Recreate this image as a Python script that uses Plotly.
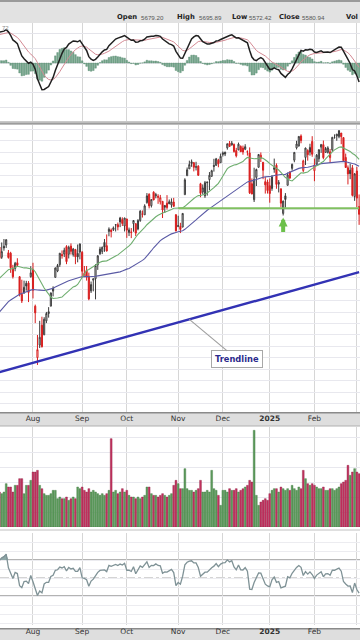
import numpy as np
import pandas as pd
import plotly.graph_objects as go

# ---------------- data ----------------
# off-screen closes (Apr 1 - Jul 10 2024), used only to warm up the indicators
warm_close = [5243, 5205, 5211, 5147, 5204, 5202, 5209, 5161, 5199, 5123, 5061, 5051, 5022, 5011, 4967, 5010, 5070, 5072, 5048, 5100, 5116, 5036,
              5018, 5064, 5128, 5181, 5187, 5188, 5214, 5223, 5221, 5247, 5308, 5297, 5303, 5308, 5321, 5307, 5268, 5305, 5306, 5267, 5236, 5278,
              5283, 5291, 5354, 5353, 5347, 5361, 5375, 5421, 5434, 5431, 5473, 5487, 5473, 5464, 5448, 5469, 5478, 5483, 5460,
              5475, 5509, 5537, 5567, 5572, 5577, 5633]

# visible daily OHLC (Jul 11 2024 - Mar 4 2025)
opens = [5635, 5590, 5638, 5644, 5610, 5608, 5543, 5541, 5566, 5505, 5428, 5433, 5476, 5478, 5505,
         5537, 5376, 5151, 5206, 5293, 5251, 5312, 5352, 5376, 5442, 5502, 5530, 5558, 5602, 5604, 5637, 5603, 5639, 5602, 5624, 5607, 5613,
         5612, 5506, 5533, 5507, 5443, 5490, 5496, 5557, 5605, 5615, 5655, 5641, 5703, 5709, 5711, 5733, 5733, 5762, 5755, 5727,
         5758, 5698, 5698, 5737, 5737, 5714, 5751, 5778, 5776, 5829, 5866, 5816, 5875, 5859, 5857, 5833, 5835, 5817, 5827, 5833, 5819, 5832, 5776,
         5724, 5725, 5722, 5864, 5947, 5977, 6008, 6004, 5986, 5989, 5912, 5876, 5859, 5920, 5930, 5944, 5992, 5992, 6015, 6004,
         6040, 6042, 6069, 6089, 6081, 6084, 6057, 6060, 6075, 6068, 6063, 6052, 6047, 5912, 5842, 5940, 5984, 6024, 6006, 5921, 5920,
         5903, 5891, 5982, 5993, 5910, 5890, 5782, 5859, 5905, 5964, 5979, 6015, 6069, 6077, 6121, 5970, 6027, 6057, 6050, 6097,
         5969, 5998, 6021, 6072, 6083, 6049, 6049, 6026, 6060, 6115, 6121, 6118, 6134, 6114, 6027, 5982, 5971, 5982, 5856,
         5968, 5812]
highs = [5642, 5655, 5670, 5669, 5622, 5614, 5557, 5570, 5586, 5508, 5492, 5488, 5487, 5486, 5551,
         5566, 5383, 5250, 5312, 5330, 5328, 5351, 5372, 5436, 5463, 5546, 5561, 5608, 5620, 5632, 5643, 5641, 5651, 5631, 5627, 5646, 5651,
         5617, 5552, 5552, 5523, 5484, 5497, 5560, 5600, 5636, 5637, 5670, 5690, 5721, 5716, 5725, 5735, 5742, 5767, 5765, 5763,
         5758, 5720, 5718, 5753, 5739, 5757, 5796, 5795, 5822, 5871, 5870, 5843, 5879, 5872, 5866, 5863, 5835, 5817, 5862, 5843, 5848, 5850, 5779,
         5772, 5741, 5783, 5936, 5983, 6013, 6018, 6007, 6008, 5993, 5916, 5909, 5924, 5921, 5963, 5973, 6021, 6025, 6021, 6044,
         6053, 6052, 6087, 6099, 6099, 6088, 6069, 6092, 6080, 6079, 6085, 6058, 6071, 5935, 5982, 5978, 6041, 6049, 6006, 5941, 5930,
         5935, 5950, 6022, 6001, 5928, 5890, 5838, 5871, 5961, 5964, 6000, 6051, 6100, 6118, 6128, 6017, 6070, 6063, 6087, 6120,
         6022, 6042, 6062, 6084, 6101, 6073, 6076, 6064, 6117, 6128, 6130, 6147, 6134, 6114, 6044, 5992, 6000, 5994, 5959,
         5986, 5865]
lows = [5571, 5583, 5619, 5631, 5584, 5522, 5497, 5529, 5551, 5419, 5390, 5432, 5444, 5394, 5501,
        5410, 5302, 5119, 5193, 5195, 5249, 5302, 5326, 5376, 5419, 5502, 5525, 5548, 5584, 5591, 5560, 5585, 5602, 5593, 5560, 5568, 5581,
        5501, 5503, 5488, 5402, 5434, 5441, 5406, 5535, 5601, 5604, 5614, 5615, 5682, 5677, 5705, 5703, 5708, 5722, 5727, 5703,
        5675, 5683, 5674, 5702, 5683, 5708, 5745, 5764, 5775, 5825, 5804, 5808, 5840, 5848, 5824, 5821, 5762, 5784, 5799, 5823, 5807, 5812, 5704,
        5723, 5696, 5722, 5864, 5947, 5977, 5986, 5966, 5970, 5946, 5853, 5865, 5850, 5860, 5884, 5944, 5965, 5992, 5984, 6004,
        6031, 6033, 6061, 6074, 6080, 6048, 6027, 6059, 6051, 6039, 6059, 6035, 5867, 5866, 5832, 5902, 5983, 6007, 5932, 5869, 5869,
        5829, 5881, 5960, 5890, 5874, 5809, 5773, 5807, 5905, 5933, 5969, 6006, 6062, 6075, 6089, 5962, 5994, 6013, 6035, 6030,
        5923, 5991, 6007, 6047, 6019, 6049, 6044, 6003, 6052, 6109, 6100, 6111, 6085, 6009, 5982, 5909, 5932, 5856, 5837,
        5810, 5732]
closes = [5585, 5615, 5631, 5667, 5589, 5545, 5505, 5564, 5555, 5427, 5399, 5459, 5464, 5436, 5522,
          5446, 5347, 5186, 5240, 5199, 5319, 5344, 5344, 5434, 5455, 5543, 5554, 5608, 5597, 5621, 5571, 5634, 5616, 5626, 5592, 5592, 5648,
          5529, 5520, 5503, 5408, 5471, 5496, 5554, 5596, 5626, 5634, 5635, 5618, 5713, 5703, 5719, 5732, 5723, 5745, 5738, 5762,
          5709, 5710, 5700, 5751, 5696, 5751, 5792, 5780, 5815, 5859, 5815, 5843, 5841, 5864, 5853, 5851, 5797, 5809, 5808, 5824, 5833, 5813, 5705,
          5729, 5712, 5782, 5929, 5973, 5996, 6001, 5984, 5985, 5949, 5870, 5894, 5917, 5917, 5949, 5969, 5988, 6021, 5999, 6032,
          6047, 6050, 6087, 6075, 6090, 6053, 6034, 6085, 6052, 6051, 6074, 6051, 5872, 5867, 5931, 5974, 6040, 6037, 5971, 5907, 5882,
          5869, 5942, 5975, 5909, 5918, 5827, 5836, 5843, 5950, 5937, 5997, 6049, 6086, 6119, 6101, 6012, 6068, 6039, 6071, 6041,
          5994, 6037, 6061, 6084, 6026, 6066, 6069, 6052, 6115, 6115, 6129, 6144, 6118, 6013, 5983, 5955, 5956, 5861, 5955,
          5849, 5778]
# volume, billions of shares
volume = [2.1, 2.0, 2.1, 2.6, 2.4, 2.4, 2.1, 2.5, 2.5, 2.9, 2.9, 2.0, 2.5, 2.5, 2.8,
          3.3, 3.3, 3.4, 2.5, 2.3, 2.0, 1.9, 1.9, 2.0, 2.2, 2.2, 1.7, 1.8, 1.7, 1.7, 1.8, 1.6, 1.7, 1.8, 1.7, 2.4, 2.3,
          2.4, 2.2, 2.1, 2.3, 2.1, 2.2, 2.1, 2.0, 1.9, 2.0, 1.9, 2.0, 2.2, 5.3, 2.1, 2.2, 2.0, 2.1, 2.3, 2.1,
          2.2, 1.9, 1.8, 1.8, 1.7, 1.8, 1.7, 1.8, 1.9, 2.4, 2.4, 2.0, 1.9, 1.9, 1.8, 1.9, 2.0, 1.9, 1.8, 1.9, 2.0, 2.5, 2.8,
          2.6, 2.3, 2.3, 3.5, 2.3, 2.2, 2.2, 2.1, 2.2, 2.3, 2.8, 2.1, 2.1, 2.2, 2.1, 3.4, 2.3, 2.2, 1.9, 1.3,
          2.2, 2.2, 2.1, 2.3, 2.2, 2.2, 2.3, 2.1, 2.2, 2.3, 2.4, 2.5, 2.8, 2.7, 5.8, 1.9, 1.3, 1.5, 1.6, 1.7, 1.6,
          2.0, 2.2, 2.3, 2.3, 2.1, 2.4, 2.3, 2.2, 2.3, 2.2, 2.5, 2.3, 2.2, 2.4, 2.3, 3.4, 2.9, 2.6, 2.5, 2.6,
          2.5, 2.4, 2.3, 2.3, 2.4, 2.2, 2.2, 2.3, 2.3, 2.2, 2.3, 2.4, 2.6, 2.7, 2.8, 3.7, 3.1, 3.3, 3.5,
          3.3, 3.2]

holidays = ["2024-05-27", "2024-06-19", "2024-07-04", "2024-09-02", "2024-11-28", "2024-12-25",
            "2025-01-01", "2025-01-09", "2025-01-20", "2025-02-17"]
month_labels = ["Aug", "Sep", "Oct", "Nov", "Dec", "<b>2025</b>", "Feb", "Mar"]
trend_dates = ["2024-07-11", "2025-03-04"]
trend_prices = [5087, 5525]
support_start = "2024-11-01"
support_price = 5805
marker_date = "2025-01-13"
callout_date = "2024-11-08"
header_labels = ["Open", "High", "Low", "Close", "Vol"]
header_values = ["5679.20", "5695.89", "5572.42", "5580.94", ""]

# ---------------- derived ----------------
cbd = pd.offsets.CustomBusinessDay(holidays=holidays)
all_dates = pd.date_range("2024-04-01", "2025-03-04", freq=cbd)
n_warm, n = len(warm_close), len(closes)
assert len(all_dates) == n_warm + n, len(all_dates)
dates = all_dates[n_warm:]
pos = {d.strftime("%Y-%m-%d"): i for i, d in enumerate(dates)}
xi = np.arange(n)

full = pd.Series(warm_close + closes, dtype=float)
sma20 = full.rolling(20).mean().values[n_warm:]
sma50 = full.rolling(50).mean().values[n_warm:]
ema12 = full.ewm(span=12, adjust=False).mean()
ema26 = full.ewm(span=26, adjust=False).mean()
macd = ema12 - ema26
sig = macd.ewm(span=9, adjust=False).mean()
hist = (macd - sig).values[n_warm:]
macd_v, sig_v = macd.values[n_warm:], sig.values[n_warm:]
delta = full.diff().fillna(0)
gain = delta.clip(lower=0).ewm(alpha=1 / 14, adjust=False).mean()
loss = (-delta.clip(upper=0)).ewm(alpha=1 / 14, adjust=False).mean()
rsi = (100 - 100 / (1 + gain / loss)).values[n_warm:]

O, Hh, L, C = map(np.array, (opens, highs, lows, closes))
prev = np.r_[warm_close[-1], C[:-1]]
up = C >= prev
months = dates.month
tickvals = [i for i in range(1, n) if months[i] != months[i - 1]]

XR = [0.23, 161.4]
HPX = 640.0


def py(y):
    return 1 - y / HPX


fig = go.Figure()

# MACD panel
fig.add_trace(go.Bar(x=xi, y=hist, width=0.75, marker=dict(color="#74a68c", line=dict(color="#5a8a72", width=0.4)),
                     xaxis="x", yaxis="y", showlegend=False))
fig.add_trace(go.Scatter(x=xi, y=sig_v, mode="lines", line=dict(color="#d48a94", width=1),
                         xaxis="x", yaxis="y", showlegend=False))
fig.add_trace(go.Scatter(x=xi, y=macd_v, mode="lines", line=dict(color="#202020", width=1.5),
                         xaxis="x", yaxis="y", showlegend=False))

# price panel
for mask, col, dfill in ((up, "#3a3a3a", "#3a3a3a"), (~up, "#d81e1e", "#d81e1e")):
    fig.add_trace(go.Candlestick(x=xi[mask], open=O[mask], high=Hh[mask], low=L[mask], close=C[mask],
                                 increasing=dict(line=dict(color=col, width=1), fillcolor="#ffffff"),
                                 decreasing=dict(line=dict(color=col, width=1), fillcolor=dfill),
                                 xaxis="x2", yaxis="y2", showlegend=False))
fig.add_trace(go.Scatter(x=xi, y=sma50, mode="lines", line=dict(color="#5a5aa5", width=1.1),
                         xaxis="x2", yaxis="y2", showlegend=False))
fig.add_trace(go.Scatter(x=xi, y=sma20, mode="lines", line=dict(color="#6fae6f", width=1.1),
                         xaxis="x2", yaxis="y2", showlegend=False))
fig.add_trace(go.Scatter(x=[pos[d] for d in trend_dates], y=trend_prices, mode="lines",
                         line=dict(color="#3232b4", width=2.4), xaxis="x2", yaxis="y2", showlegend=False))
fig.add_trace(go.Scatter(x=[pos[support_start], n - 1], y=[support_price, support_price], mode="lines",
                         line=dict(color="#80c060", width=2), xaxis="x2", yaxis="y2", showlegend=False))

# volume panel
fig.add_trace(go.Bar(x=xi, y=volume, width=0.82,
                     marker=dict(color=np.where(up, "#5e9c5e", "#c4325f"),
                                 line=dict(color=np.where(up, "#3f7a3f", "#8e2244"), width=0.4)),
                     xaxis="x3", yaxis="y3", showlegend=False))

# RSI panel
fig.add_trace(go.Scatter(x=xi, y=np.full(n, 70.0), mode="lines", line=dict(width=0, color="rgba(0,0,0,0)"),
                         xaxis="x4", yaxis="y4", showlegend=False, hoverinfo="skip"))
fig.add_trace(go.Scatter(x=xi, y=np.maximum(rsi, 70), mode="lines", line=dict(width=0, color="rgba(0,0,0,0)"),
                         fill="tonexty", fillcolor="#8fa8a8", xaxis="x4", yaxis="y4", showlegend=False))
fig.add_trace(go.Scatter(x=xi, y=rsi, mode="lines", line=dict(color="#7f9296", width=1.3),
                         xaxis="x4", yaxis="y4", showlegend=False))

grid_x = "#d6d6d6"
common_x = dict(range=XR, tickvals=tickvals, ticktext=month_labels, showgrid=True, gridcolor=grid_x,
                gridwidth=1, zeroline=False, showline=False, ticks="", fixedrange=True)
tickfont = dict(family="DejaVu Sans", size=7.5, color="#333333")

fig.update_layout(
    width=360, height=640, margin=dict(l=0, r=0, t=0, b=0),
    paper_bgcolor="#ffffff", plot_bgcolor="#ffffff",
    bargap=0.1,
    xaxis=dict(common_x, domain=[0, 1], anchor="y", showticklabels=False),
    yaxis=dict(domain=[py(121), py(23)], range=[-129, 89], tick0=0, dtick=33.3, showticklabels=False,
               gridcolor="#e4e4ea", zeroline=False),
    xaxis2=dict(common_x, domain=[0, 1], anchor="y2", showticklabels=True, tickfont=tickfont,
                rangeslider=dict(visible=False)),
    yaxis2=dict(domain=[py(412), py(125)], range=[4913, 6169], dtick=50, showticklabels=False,
                gridcolor="#e8e8ee", zeroline=False),
    xaxis3=dict(common_x, domain=[0, 1], anchor="y3", showticklabels=False),
    yaxis3=dict(domain=[py(527), py(427)], range=[0, 6.0], dtick=0.9, showticklabels=False,
                gridcolor="#e8e8ee", zeroline=False),
    xaxis4=dict(common_x, domain=[0, 1], anchor="y4", showticklabels=True, tickfont=tickfont),
    yaxis4=dict(domain=[py(625), py(533)], range=[-2.2, 100], dtick=10, showticklabels=False,
                gridcolor="#ececf0", zeroline=False),
)

shapes = []
# header band
shapes.append(dict(type="rect", xref="paper", yref="paper", x0=0, x1=1, y0=py(23), y1=1,
                   fillcolor="#e2e2e2", line=dict(width=0), layer="below"))
shapes.append(dict(type="rect", xref="paper", yref="paper", x0=0, x1=1, y0=py(2), y1=1,
                   fillcolor="#9a9a9a", line=dict(width=0), layer="below"))
# separator MACD / price
shapes.append(dict(type="rect", xref="paper", yref="paper", x0=0, x1=1, y0=py(125), y1=py(121),
                   fillcolor="#c8c8c8", line=dict(width=0), layer="below"))
shapes.append(dict(type="line", xref="paper", yref="paper", x0=0, x1=1, y0=py(123.5), y1=py(123.5),
                   line=dict(color="#9c9c9c", width=1.5), layer="below"))
# x-label bands
for top, bot in ((412, 426), (628, 640)):
    shapes.append(dict(type="rect", xref="paper", yref="paper", x0=0, x1=1, y0=py(bot), y1=py(top),
                       fillcolor="#dedede", line=dict(width=0), layer="below"))
    shapes.append(dict(type="line", xref="paper", yref="paper", x0=0, x1=1, y0=py(top + 0.8), y1=py(top + 0.8),
                       line=dict(color="#8a8a8a", width=1.6), layer="below"))
shapes.append(dict(type="line", xref="paper", yref="paper", x0=0, x1=1, y0=py(426), y1=py(426),
                   line=dict(color="#b0b0b0", width=1), layer="below"))
shapes.append(dict(type="line", xref="paper", yref="paper", x0=0, x1=1, y0=py(530), y1=py(530),
                   line=dict(color="#c0c0c0", width=1), layer="below"))
# RSI levels
for lvl, dash, colr in ((70, "solid", "#9a9a9a"), (30, "solid", "#9a9a9a"), (50, "dashdot", "#a8a8a8")):
    shapes.append(dict(type="line", xref="x4 domain", yref="y4", x0=0, x1=1, y0=lvl, y1=lvl,
                       line=dict(color=colr, width=1.4 if dash == "solid" else 1, dash=dash), layer="below"))
fig.update_layout(shapes=shapes)

ann = []
hx = [115, 175, 230, 277]
vx = [139, 197, 247, 300]
for lab, val, x0, x1 in zip(header_labels[:4], header_values[:4], hx, vx):
    ann.append(dict(text="<b>%s</b>" % lab, x=x0 / 360, y=py(17), xref="paper", yref="paper",
                    xanchor="left", yanchor="middle", showarrow=False,
                    font=dict(family="DejaVu Sans", size=6.8, color="#222222")))
    ann.append(dict(text=val, x=x1 / 360, y=py(17), xref="paper", yref="paper",
                    xanchor="left", yanchor="middle", showarrow=False,
                    font=dict(family="Liberation Sans", size=6.2, color="#555555")))
ann.append(dict(text="<b>%s</b>" % header_labels[4], x=1, y=py(17), xref="paper", yref="paper",
                xanchor="right", yanchor="middle", showarrow=False,
                font=dict(family="DejaVu Sans", size=6.8, color="#222222")))
ann.append(dict(text="72", x=0, y=py(28), xref="paper", yref="paper", xanchor="left", yanchor="middle",
                showarrow=False, font=dict(family="Liberation Sans", size=6, color="#888888")))
# trendline callout
cx = pos[callout_date]
cy = float(np.interp(cx, [pos[d] for d in trend_dates], trend_prices))
ann.append(dict(text="<b>Trendline</b>", x=cx, y=cy, xref="x2", yref="y2", ax=48, ay=40,
                showarrow=True, arrowhead=0, arrowwidth=1.2, arrowcolor="#a0a0a0",
                bgcolor="#ffffff", bordercolor="#a8a8a8", borderwidth=1, borderpad=3,
                font=dict(family="DejaVu Sans", size=8.3, color="#2a2a8c")))
# support arrow
mi = pos[marker_date]
ann.append(dict(text="", x=mi, y=lows[mi], xref="x2", yref="y2", ax=0, ay=15, yshift=-2,
                showarrow=True, arrowhead=2, arrowsize=0.45, arrowwidth=4, arrowcolor="#6cc04a",
                font=dict(size=1), borderpad=0))
fig.update_layout(annotations=ann)

fig.write_html("out.html")
